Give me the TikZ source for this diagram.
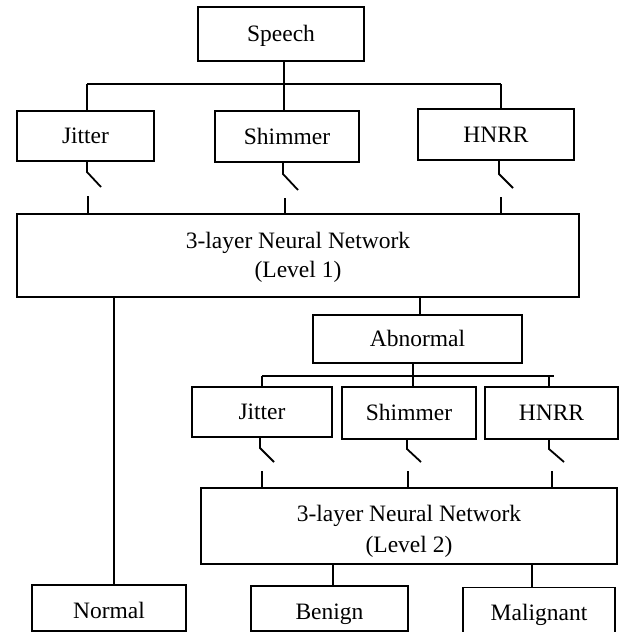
\documentclass[tikz,border=0pt]{standalone}
\usepackage{fontspec}
\setmainfont{Liberation Serif}
\begin{document}
\begin{tikzpicture}[x=1pt,y=-1pt,line width=1.8pt,
  box/.style={draw,line width=1.8pt,inner sep=0pt,font=\fontsize{23.5}{28}\selectfont,text height=16pt,text depth=1pt},
  lowbox/.style={box,text height=22.5pt,text depth=1pt},
  lbl/.style={inner sep=0pt,font=\fontsize{23.5}{28}\selectfont,anchor=base},
  conn/.style={line width=1.8pt}]
\useasboundingbox (0,0) rectangle (622,632);
\clip (0,0) rectangle (622,632);

% ---- boxes
\node[box,minimum width=166pt,minimum height=54pt] (speech) at (281,34) {Speech};
\node[box,minimum width=137pt,minimum height=50pt] (jit1) at (85.5,136) {Jitter};
\node[box,minimum width=144pt,minimum height=51pt] (shim1) at (287,136.5) {Shimmer};
\node[box,minimum width=156pt,minimum height=51pt] (hnrr1) at (496,134.5) {HNRR};
\node[box,minimum width=562pt,minimum height=83pt] (nn1) at (298,255.5) {};
\node[lbl] (nn1a) at (298,248) {3-layer Neural Network};
\node[lbl] (nn1b) at (298,277) {(Level 1)};
\node[box,minimum width=209pt,minimum height=48pt] (abn) at (417.5,339) {Abnormal};
\node[box,minimum width=140pt,minimum height=50pt] (jit2) at (262,412) {Jitter};
\node[box,minimum width=134pt,minimum height=52pt] (shim2) at (409,413) {Shimmer};
\node[box,minimum width=133pt,minimum height=52pt] (hnrr2) at (551.5,413) {HNRR};
\node[box,minimum width=416pt,minimum height=76pt] (nn2) at (409,526) {};
\node[lbl] (nn2a) at (409,521) {3-layer Neural Network};
\node[lbl] (nn2b) at (409,552) {(Level 2)};
\node[lowbox,minimum width=154pt,minimum height=46pt] (normal) at (109,608) {Normal};
\node[lowbox,minimum width=157pt,minimum height=45pt] (benign) at (329.5,608.5) {Benign};
\node[box,minimum width=152pt,minimum height=50pt] (malig) at (539,612.5) {Malignant};

% ---- level 1 distribution
\coordinate (c0) at (284,84);
\coordinate (bl) at (87,84);
\coordinate (br) at (501,84);
\draw[conn] (speech.south -| c0) -- (shim1.north -| c0);
\draw[conn] (bl) -- (br);
\draw[conn] (bl) -- (jit1.north -| bl);
\draw[conn] (br) -- (hnrr1.north -| br);

% ---- level 1 switches
\coordinate (j1a) at (87,172); \coordinate (j1b) at (101,187); \coordinate (j1c) at (88,196);
\coordinate (s1a) at (283,174); \coordinate (s1b) at (298,190); \coordinate (s1c) at (285,198);
\coordinate (h1a) at (499,174); \coordinate (h1b) at (513,188); \coordinate (h1c) at (501,197);
\draw[conn] (jit1.south -| j1a) -- (j1a) -- (j1b);
\draw[conn] (j1c) -- (nn1.north -| j1c);
\draw[conn] (shim1.south -| s1a) -- (s1a) -- (s1b);
\draw[conn] (s1c) -- (nn1.north -| s1c);
\draw[conn] (hnrr1.south -| h1a) -- (h1a) -- (h1b);
\draw[conn] (h1c) -- (nn1.north -| h1c);

% ---- outputs of level 1
\coordinate (nx) at (114,0);
\coordinate (ax) at (420,0);
\draw[conn] (nn1.south -| nx) -- (normal.north -| nx);
\draw[conn] (nn1.south -| ax) -- (abn.north -| ax);

% ---- level 2 distribution
\coordinate (c2) at (413,376);
\coordinate (bl2) at (262,376);
\coordinate (br2) at (554,376);
\coordinate (hx2) at (549,376);
\draw[conn] (abn.south -| c2) -- (shim2.north -| c2);
\draw[conn] (bl2) -- (br2);
\draw[conn] (bl2) -- (jit2.north -| bl2);
\draw[conn] (hx2) -- (hnrr2.north -| hx2);

% ---- level 2 switches
\coordinate (j2a) at (260,448); \coordinate (j2b) at (274,462); \coordinate (j2c) at (262,471);
\coordinate (s2a) at (407,449); \coordinate (s2b) at (421,462); \coordinate (s2c) at (408,471);
\coordinate (h2a) at (549,449); \coordinate (h2b) at (564,462); \coordinate (h2c) at (552,471);
\draw[conn] (jit2.south -| j2a) -- (j2a) -- (j2b);
\draw[conn] (j2c) -- (nn2.north -| j2c);
\draw[conn] (shim2.south -| s2a) -- (s2a) -- (s2b);
\draw[conn] (s2c) -- (nn2.north -| s2c);
\draw[conn] (hnrr2.south -| h2a) -- (h2a) -- (h2b);
\draw[conn] (h2c) -- (nn2.north -| h2c);

% ---- outputs of level 2
\coordinate (bx) at (333,0);
\coordinate (mx) at (532,0);
\draw[conn] (nn2.south -| bx) -- (benign.north -| bx);
\draw[conn] (nn2.south -| mx) -- (malig.north -| mx);
\end{tikzpicture}
\end{document}
